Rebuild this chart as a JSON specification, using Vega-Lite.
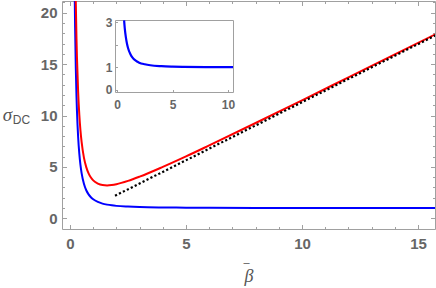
{
  "$schema": "https://vega.github.io/schema/vega-lite/v6.json",
  "width": 373,
  "height": 228,
  "autosize": {"type": "none"},
  "padding": {"left": 62, "top": 1, "right": 1, "bottom": 59},
  "config": {
    "view": {"stroke": "#a0a0a0", "strokeWidth": 1},
    "axis": {"grid": false, "domain": false, "labelFont": "Liberation Sans", "labelColor": "#666666", "labelFontWeight": "bold", "labelFontSize": 15, "tickColor": "#a0a0a0", "tickWidth": 1, "domainColor": "#a0a0a0"}
  },
  "datasets": {
    "blue": [
      {"beta": 0.19, "sigma": 24.5}, {"beta": 0.2, "sigma": 22.25}, {"beta": 0.22, "sigma": 18.56}, {"beta": 0.25, "sigma": 14.6},
      {"beta": 0.28, "sigma": 11.84}, {"beta": 0.3, "sigma": 10.44}, {"beta": 0.35, "sigma": 7.94}, {"beta": 0.4, "sigma": 6.31},
      {"beta": 0.45, "sigma": 5.2}, {"beta": 0.5, "sigma": 4.4}, {"beta": 0.6, "sigma": 3.36}, {"beta": 0.7, "sigma": 2.73},
      {"beta": 0.8, "sigma": 2.33}, {"beta": 0.9, "sigma": 2.05}, {"beta": 1.0, "sigma": 1.85}, {"beta": 1.2, "sigma": 1.59},
      {"beta": 1.4, "sigma": 1.43}, {"beta": 1.6, "sigma": 1.33}, {"beta": 1.8, "sigma": 1.26}, {"beta": 2.0, "sigma": 1.21},
      {"beta": 2.5, "sigma": 1.14}, {"beta": 3, "sigma": 1.094}, {"beta": 4, "sigma": 1.053}, {"beta": 5, "sigma": 1.034},
      {"beta": 6, "sigma": 1.024}, {"beta": 8, "sigma": 1.013}, {"beta": 10, "sigma": 1.0085}, {"beta": 12, "sigma": 1.006},
      {"beta": 14, "sigma": 1.004}, {"beta": 15.8, "sigma": 1.003}
    ],
    "red": [
      {"beta": 0.2, "sigma": 30.4}, {"beta": 0.22, "sigma": 25.9}, {"beta": 0.25, "sigma": 20.96}, {"beta": 0.28, "sigma": 17.45},
      {"beta": 0.3, "sigma": 15.64}, {"beta": 0.35, "sigma": 12.33}, {"beta": 0.4, "sigma": 10.11}, {"beta": 0.45, "sigma": 8.56},
      {"beta": 0.5, "sigma": 7.43}, {"beta": 0.6, "sigma": 5.91}, {"beta": 0.7, "sigma": 4.98}, {"beta": 0.8, "sigma": 4.38},
      {"beta": 0.9, "sigma": 3.97}, {"beta": 1.0, "sigma": 3.69}, {"beta": 1.2, "sigma": 3.37}, {"beta": 1.4, "sigma": 3.23},
      {"beta": 1.6, "sigma": 3.2}, {"beta": 1.8, "sigma": 3.24}, {"beta": 2.0, "sigma": 3.32}, {"beta": 2.5, "sigma": 3.64},
      {"beta": 3, "sigma": 4.05}, {"beta": 4, "sigma": 5.0}, {"beta": 5, "sigma": 6.02}, {"beta": 6, "sigma": 7.09},
      {"beta": 8, "sigma": 9.27}, {"beta": 10, "sigma": 11.48}, {"beta": 12, "sigma": 13.71}, {"beta": 14, "sigma": 15.94},
      {"beta": 15.8, "sigma": 17.96}
    ],
    "asym": [{"beta": 1.94, "sigma": 2.19}, {"beta": 15.8, "sigma": 17.85}],
    "blueInset": [
      {"beta": 0.64, "sigma": 3.08}, {"beta": 0.7, "sigma": 2.73}, {"beta": 0.8, "sigma": 2.33}, {"beta": 0.9, "sigma": 2.05},
      {"beta": 1.0, "sigma": 1.85}, {"beta": 1.2, "sigma": 1.59}, {"beta": 1.4, "sigma": 1.43}, {"beta": 1.6, "sigma": 1.33},
      {"beta": 1.8, "sigma": 1.26}, {"beta": 2.0, "sigma": 1.21}, {"beta": 2.5, "sigma": 1.14}, {"beta": 3, "sigma": 1.094},
      {"beta": 4, "sigma": 1.053}, {"beta": 5, "sigma": 1.034}, {"beta": 6, "sigma": 1.024}, {"beta": 8, "sigma": 1.013},
      {"beta": 10, "sigma": 1.0085}, {"beta": 10.45, "sigma": 1.008}
    ]
  },
  "layer": [
    {
      "layer": [
        {
          "data": {"name": "blue"},
          "mark": {"type": "line", "color": "#0000ff", "strokeWidth": 2, "clip": true, "interpolate": "monotone"},
          "encoding": {
            "x": {"field": "beta", "type": "quantitative", "scale": {"domain": [-0.345, 15.73], "nice": false, "zero": false},
              "axis": {"orient": "bottom", "values": [0, 5, 10, 15], "ticks": false, "labelPadding": 7, "title": "β", "titleFont": "Liberation Serif", "titleFontStyle": "italic", "titleFontWeight": "normal", "titleFontSize": 18, "titleColor": "#555555", "titleBaseline": "middle", "titleY": 47}},
            "y": {"field": "sigma", "type": "quantitative", "scale": {"domain": [-1.04, 21.14], "nice": false, "zero": false},
              "axis": {"orient": "left", "values": [0, 5, 10, 15, 20], "ticks": false, "labelPadding": 5, "title": "σ", "titleAngle": 0, "titleFont": "Liberation Serif", "titleFontStyle": "italic", "titleFontWeight": "normal", "titleFontSize": 19, "titleColor": "#555555", "titleAlign": "center", "titleBaseline": "middle", "titleX": -55, "titleY": 113}}
          }
        },
        {
          "data": {"name": "red"},
          "mark": {"type": "line", "color": "#ff0000", "strokeWidth": 2, "clip": true, "interpolate": "monotone"},
          "encoding": {
            "x": {"field": "beta", "type": "quantitative", "scale": {"domain": [-0.345, 15.73], "nice": false, "zero": false},
              "axis": {"orient": "bottom", "values": [0,1,2,3,4,5,6,7,8,9,10,11,12,13,14,15], "labels": false,
                "tickSize": {"condition": {"test": "datum.value % 5 === 0", "value": -4.5}, "value": -2.5},
                "title": "–", "titleFont": "Liberation Sans", "titleFontWeight": "normal", "titleFontSize": 11, "titleColor": "#555555", "titleAlign": "center", "titleBaseline": "middle", "titleX": 184, "titleY": 33}},
            "y": {"field": "sigma", "type": "quantitative", "scale": {"domain": [-1.04, 21.14], "nice": false, "zero": false},
              "axis": {"orient": "left", "values": [0,1,2,3,4,5,6,7,8,9,10,11,12,13,14,15,16,17,18,19,20,21], "labels": false,
                "tickSize": {"condition": {"test": "datum.value % 5 === 0", "value": -4.5}, "value": -2.5},
                "title": "DC", "titleAngle": 0, "titleFont": "Liberation Sans", "titleFontWeight": "normal", "titleFontSize": 12, "titleColor": "#555555", "titleAlign": "center", "titleBaseline": "middle", "titleX": -41, "titleY": 118}}
          }
        },
        {
          "data": {"name": "asym"},
          "mark": {"type": "line", "color": "#000000", "strokeWidth": 2.2, "strokeDash": [2.2, 2.2], "clip": true},
          "encoding": {
            "x": {"field": "beta", "type": "quantitative", "scale": {"domain": [-0.345, 15.73], "nice": false, "zero": false},
              "axis": {"orient": "top", "values": [0,1,2,3,4,5,6,7,8,9,10,11,12,13,14,15], "labels": false, "title": null,
                "tickSize": {"condition": {"test": "datum.value % 5 === 0", "value": -4.5}, "value": -2.5}}},
            "y": {"field": "sigma", "type": "quantitative", "scale": {"domain": [-1.04, 21.14], "nice": false, "zero": false},
              "axis": {"orient": "right", "values": [0,1,2,3,4,5,6,7,8,9,10,11,12,13,14,15,16,17,18,19,20,21], "labels": false, "title": null,
                "tickSize": {"condition": {"test": "datum.value % 5 === 0", "value": -4.5}, "value": -2.5}}}
          }
        }
      ],
      "resolve": {"axis": {"x": "independent", "y": "independent"}}
    },
    {
      "layer": [
        {
          "data": {"name": "blueInset"},
          "mark": {"type": "line", "color": "#0000ff", "strokeWidth": 2.2, "interpolate": "monotone"},
          "encoding": {
            "x": {"field": "beta", "type": "quantitative", "scale": {"domain": [-0.18, 10.45], "range": [53, 171], "nice": false, "zero": false},
              "axis": {"orient": "bottom", "offset": -137, "values": [0, 5, 10], "domain": true, "ticks": false, "labelFontSize": 12, "labelPadding": 7, "title": null}},
            "y": {"field": "sigma", "type": "quantitative", "scale": {"domain": [-0.09, 3.1], "range": [91, 19], "nice": false, "zero": false},
              "axis": {"orient": "left", "offset": -53, "values": [0, 1, 3], "domain": true, "ticks": false, "labelFontSize": 12, "labelPadding": 3, "title": null}}
          }
        },
        {
          "data": {"name": "blueInset"},
          "mark": {"type": "line", "opacity": 0},
          "encoding": {
            "x": {"field": "beta", "type": "quantitative", "scale": {"domain": [-0.18, 10.45], "range": [53, 171], "nice": false, "zero": false},
              "axis": {"orient": "top", "offset": -19, "domain": true, "ticks": false, "labels": false, "title": null}},
            "y": {"field": "sigma", "type": "quantitative", "scale": {"domain": [-0.09, 3.1], "range": [91, 19], "nice": false, "zero": false},
              "axis": {"orient": "right", "offset": -202, "domain": true, "ticks": false, "labels": false, "title": null}}
          }
        },
        {
          "data": {"name": "blueInset"},
          "mark": {"type": "line", "opacity": 0},
          "encoding": {
            "x": {"field": "beta", "type": "quantitative", "scale": {"domain": [-0.18, 10.45], "range": [53, 171], "nice": false, "zero": false},
              "axis": {"orient": "bottom", "offset": -137, "values": [0, 5, 10], "tickSize": -2.5, "labels": false, "title": null}},
            "y": {"field": "sigma", "type": "quantitative", "scale": {"domain": [-0.09, 3.1], "range": [91, 19], "nice": false, "zero": false},
              "axis": {"orient": "left", "offset": -53, "values": [0, 1, 2, 3], "tickSize": -2.5, "labels": false, "title": null}}
          }
        }
      ],
      "resolve": {"axis": {"x": "independent", "y": "independent"}}
    }
  ],
  "resolve": {"scale": {"x": "independent", "y": "independent"}, "axis": {"x": "independent", "y": "independent"}}
}
